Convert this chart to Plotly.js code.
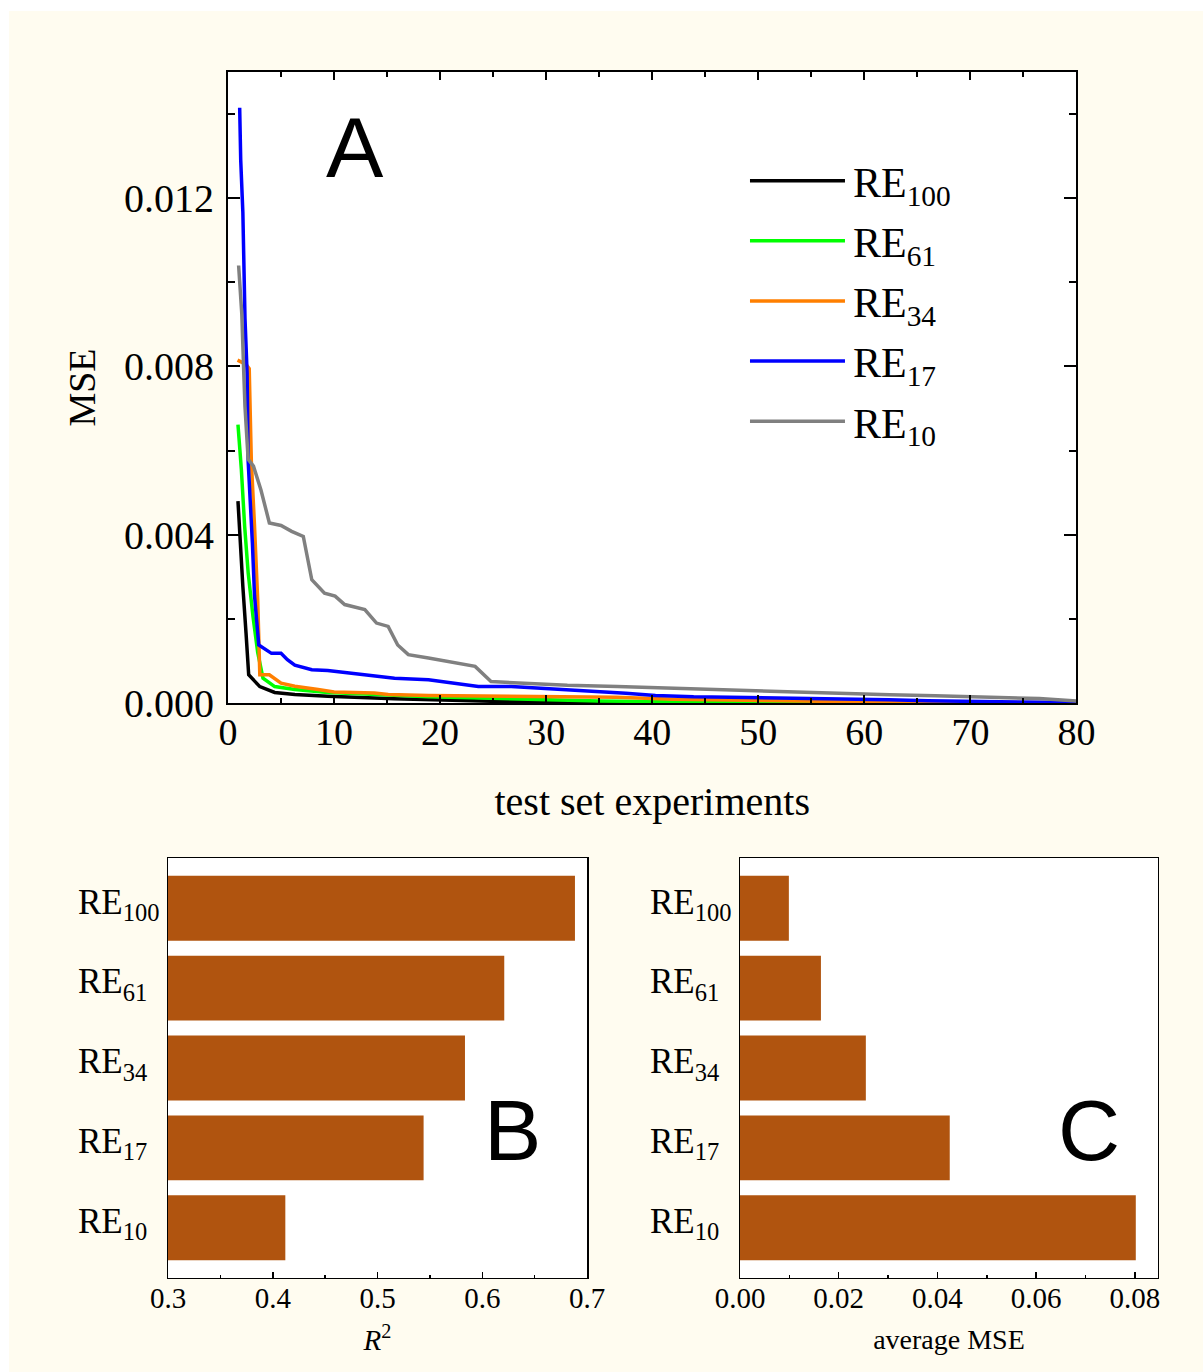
<!DOCTYPE html>
<html>
<head>
<meta charset="utf-8">
<script src="https://cdn.plot.ly/plotly-3.0.1.min.js"></script>
<style>
  html, body { margin: 0; padding: 0; background: #ffffff; }
  #chart { position: absolute; left: 9px; top: 11px; width: 1194px; height: 1361px; }
</style>
</head>
<body>
<div id="chart"></div>
<script>
// ---- Panel A: MSE vs number of test set experiments (vertices) ----
const seriesNames = ['RE<sub>100</sub>', 'RE<sub>61</sub>', 'RE<sub>34</sub>', 'RE<sub>17</sub>', 'RE<sub>10</sub>'];
const seriesColors = ['#000000', '#00ff00', '#ff7f00', '#0000ff', '#808080'];

const re100X = [0.94, 1.1, 1.4, 1.7, 1.95, 3, 4.4, 6.3, 9.4, 15.7, 25, 35, 50, 80];
const re100Y = [0.0048, 0.00405, 0.00277, 0.00166, 0.00067, 0.00039, 0.00025, 0.0002, 0.00016, 0.0001, 0.00004, 0.00001, 0, 0];

const re61X = [0.94, 1.26, 1.57, 1.9, 2.36, 2.8, 3.3, 4.4, 6.3, 9.4, 14, 18.9, 25, 35, 45, 60, 80];
const re61Y = [0.00662, 0.00555, 0.0042, 0.0031, 0.00205, 0.0012, 0.00059, 0.00039, 0.00032, 0.00025, 0.0002, 0.00015, 0.00011, 0.00005, 0.00002, 0.000005, 0];

const re34X = [0.9, 1.7, 2.0, 2.1, 2.2, 2.5, 2.8, 3.0, 3.9, 5.0, 6.3, 8.5, 10, 13.8, 15.1, 18.9, 25, 31.4, 36.6, 42, 49, 57.6, 65.7, 75, 80];
const re34Y = [0.00815, 0.00805, 0.00795, 0.00705, 0.00575, 0.0042, 0.00245, 0.00067, 0.00067, 0.00047, 0.0004, 0.00032, 0.00026, 0.00024, 0.0002, 0.00018, 0.00017, 0.00015, 0.000139, 0.000091, 0.00006, 0.000036, 0.00002, 0.000008, 0.000005];

const re17X = [1.1, 1.2, 1.4, 1.6, 1.8, 1.9, 2.3, 2.5, 2.9, 3.5, 4.1, 5.0, 5.6, 6.3, 7.9, 9.4, 12.6, 15.7, 18.9, 22, 23.6, 26.7, 31.4, 35.8, 37.5, 40.3, 43.9, 49, 54, 58.4, 62.3, 66, 71, 76.5, 80];
const re17Y = [0.01415, 0.0129, 0.01167, 0.00915, 0.00785, 0.00575, 0.0038, 0.00255, 0.00138, 0.00127, 0.00118, 0.00118, 0.00103, 0.0009, 0.00079, 0.00077, 0.00067, 0.00059, 0.00055, 0.00044, 0.00039, 0.00039, 0.00032, 0.000273, 0.000234, 0.000178, 0.000146, 0.00013, 0.000115, 0.0001, 0.000075, 0.000051, 0.000036, 0.000012, 0.00001];

const re10X = [1.0, 1.3, 1.5, 1.6, 1.9, 2.4, 3.1, 3.9, 5.0, 6.0, 7.1, 7.9, 9.1, 10.1, 11, 12.9, 14, 15.1, 16, 17, 18.9, 21.4, 23.3, 24.8, 28.3, 32, 36.7, 41.7, 48, 54, 58.4, 62.4, 66.7, 71.5, 76.5, 80];
const re10Y = [0.0104, 0.00925, 0.00775, 0.00705, 0.00579, 0.00563, 0.00507, 0.00428, 0.00422, 0.00408, 0.00396, 0.00293, 0.00261, 0.00254, 0.00234, 0.00222, 0.0019, 0.00182, 0.00138, 0.00115, 0.00107, 0.00095, 0.00087, 0.00051, 0.00046, 0.00042, 0.000392, 0.000352, 0.000313, 0.00025, 0.000234, 0.000194, 0.00017, 0.000146, 0.000107, 0.00005];

const seriesX = [re100X, re61X, re34X, re17X, re10X];
const seriesY = [re100Y, re61Y, re34Y, re17Y, re10Y];

// ---- Panels B and C: bar charts ----
const barCategories = ['RE<sub>100</sub>', 'RE<sub>61</sub>', 'RE<sub>34</sub>', 'RE<sub>17</sub>', 'RE<sub>10</sub>'];
// tick labels (left-aligned look: shorter subscripts padded with trailing spaces)
const barTickText = ['RE<sub>100</sub>', 'RE<sub>61\u00a0\u00a0</sub>', 'RE<sub>34\u00a0\u00a0</sub>', 'RE<sub>17\u00a0\u00a0</sub>', 'RE<sub>10\u00a0\u00a0</sub>'];
const r2Values = [0.6885, 0.621, 0.5835, 0.544, 0.412];
const avgMseValues = [0.0099, 0.0164, 0.0255, 0.0425, 0.0802];
const r2Base = 0.3;

const serif = 'Liberation Serif, Times New Roman, serif';
const sans = 'Liberation Sans, Arial, sans-serif';
const barColor = '#b0540f';

const traces = [];
for (let i = 0; i < seriesNames.length; i++) {
  traces.push({
    type: 'scatter', mode: 'lines',
    x: seriesX[i], y: seriesY[i],
    name: seriesNames[i], legendgroup: 'g' + i,
    line: { color: seriesColors[i], width: 3.5 },
    xaxis: 'x', yaxis: 'y',
    hoverinfo: 'skip'
  });
}
traces.push({
  type: 'bar', orientation: 'h',
  x: r2Values.map(v => v - r2Base), y: barCategories, base: r2Base,
  marker: { color: barColor, line: { width: 0 } },
  xaxis: 'x2', yaxis: 'y2', showlegend: false
});
traces.push({
  type: 'bar', orientation: 'h',
  x: avgMseValues, y: barCategories,
  marker: { color: barColor, line: { width: 0 } },
  xaxis: 'x3', yaxis: 'y3', showlegend: false
});

const commonLine = { showline: true, linecolor: '#000000', showgrid: false, zeroline: false };

const layout = {
  width: 1194, height: 1361,
  margin: { l: 0, r: 0, t: 0, b: 0 },
  paper_bgcolor: '#fffcf0',
  plot_bgcolor: '#ffffff',
  bargap: 0.1875,
  showlegend: true,
  legend: {
    x: 0.6164, xanchor: 'left',
    y: 0.9001, yanchor: 'top',
    bgcolor: 'rgba(0,0,0,0)', borderwidth: 0,
    font: { family: serif, size: 42, color: '#000000' },
    itemwidth: 98,
    tracegroupgap: 2.5
  },
  xaxis: Object.assign({}, commonLine, {
    domain: [0.18342, 0.89405], anchor: 'y',
    range: [0, 80], dtick: 10, tick0: 0,
    ticks: 'inside', ticklen: 8, tickwidth: 2, tickcolor: '#000',
    minor: { dtick: 5, ticks: 'inside', ticklen: 5, tickwidth: 2, tickcolor: '#000' },
    mirror: 'ticks', linewidth: 2,
    tickfont: { family: serif, size: 38, color: '#000' },
    ticklabelstandoff: -6,
    title: { text: 'test set experiments', font: { family: serif, size: 40, color: '#000' }, standoff: 35 }
  }),
  yaxis: Object.assign({}, commonLine, {
    domain: [0.49155, 0.95518], anchor: 'x',
    range: [0, 0.015], dtick: 0.004, tick0: 0, tickformat: '.3f',
    ticks: 'inside', ticklen: 12, tickwidth: 2, tickcolor: '#000',
    minor: { dtick: 0.002, ticks: 'inside', ticklen: 7, tickwidth: 2, tickcolor: '#000' },
    mirror: 'ticks', linewidth: 2,
    tickfont: { family: serif, size: 40, color: '#000' },
    ticklabelstandoff: 4,
    title: { text: 'MSE', font: { family: serif, size: 38, color: '#000' }, standoff: 17 }
  }),
  xaxis2: Object.assign({}, commonLine, {
    domain: [0.13317, 0.48409], anchor: 'y2',
    range: [0.3, 0.7], dtick: 0.1, tick0: 0.3, tickformat: '.1f',
    ticks: 'inside', ticklen: 6, tickwidth: 1.5, tickcolor: '#000',
    minor: { dtick: 0.05, ticks: 'inside', ticklen: 3, tickwidth: 1.5, tickcolor: '#000' },
    mirror: true, linewidth: 1.5,
    tickfont: { family: serif, size: 29, color: '#000' },
    ticklabelstandoff: -6,
    title: { text: '<i>R</i><sup>2</sup>', font: { family: serif, size: 29, color: '#000' }, standoff: 16 }
  }),
  yaxis2: Object.assign({}, commonLine, {
    domain: [0.06907, 0.37766], anchor: 'x2',
    type: 'category', categoryorder: 'array', categoryarray: barCategories,
    tickvals: barCategories, ticktext: barTickText,
    range: [4.63, -0.63],
    ticks: '', mirror: true, linewidth: 1.5,
    tickfont: { family: serif, size: 35, color: '#000' },
    ticklabelstandoff: 0, ticklabelshift: 7
  }),
  xaxis3: Object.assign({}, commonLine, {
    domain: [0.61223, 0.96231], anchor: 'y3',
    range: [0, 0.0847], dtick: 0.02, tick0: 0, tickformat: '.2f',
    ticks: 'inside', ticklen: 6, tickwidth: 1.5, tickcolor: '#000',
    minor: { dtick: 0.01, ticks: 'inside', ticklen: 3, tickwidth: 1.5, tickcolor: '#000' },
    mirror: true, linewidth: 1.5,
    tickfont: { family: serif, size: 29, color: '#000' },
    ticklabelstandoff: -6,
    title: { text: 'average MSE', font: { family: serif, size: 28, color: '#000' }, standoff: 16 }
  }),
  yaxis3: Object.assign({}, commonLine, {
    domain: [0.06907, 0.37766], anchor: 'x3',
    type: 'category', categoryorder: 'array', categoryarray: barCategories,
    tickvals: barCategories, ticktext: barTickText,
    range: [4.63, -0.63],
    ticks: '', mirror: true, linewidth: 1.5,
    tickfont: { family: serif, size: 35, color: '#000' },
    ticklabelstandoff: 0, ticklabelshift: 7
  }),
  annotations: [
    { text: 'A', xref: 'paper', yref: 'paper', x: 0.28978, y: 0.9, xanchor: 'center', yanchor: 'middle', showarrow: false, font: { family: sans, size: 86, color: '#000' } },
    { text: 'B', xref: 'paper', yref: 'paper', x: 0.42211, y: 0.1778, xanchor: 'center', yanchor: 'middle', showarrow: false, font: { family: sans, size: 86, color: '#000' } },
    { text: 'C', xref: 'paper', yref: 'paper', x: 0.90452, y: 0.1778, xanchor: 'center', yanchor: 'middle', showarrow: false, font: { family: sans, size: 86, color: '#000' } }
  ]
};

Plotly.newPlot('chart', traces, layout, { staticPlot: true, displayModeBar: false }).then(function (gd) {
  gd.querySelectorAll('.legendlines path').forEach(function (p) { p.setAttribute('d', 'M5,0h95'); });
});
</script>
</body>
</html>
